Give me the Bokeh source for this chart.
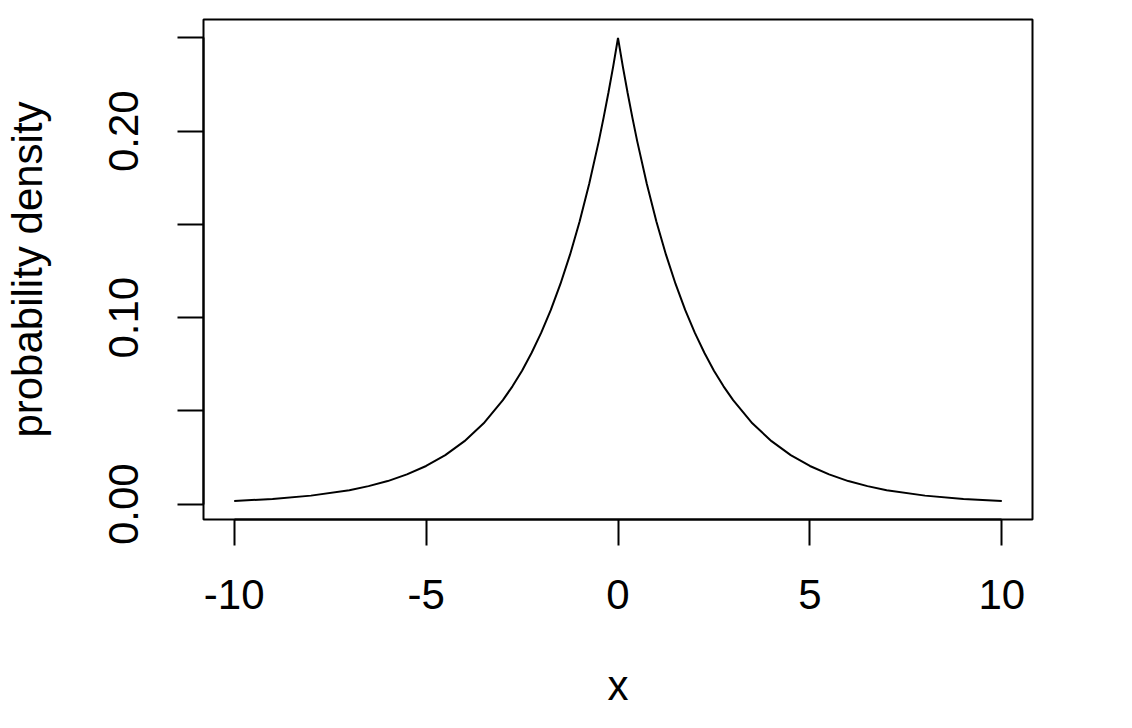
from bokeh.plotting import figure
from bokeh.models import Range1d, FixedTicker
from bokeh.embed import file_html
from bokeh.resources import INLINE

# Laplace-shaped density curve
x_vals = [-10, -9, -8, -7, -6.5, -6, -5.5, -5, -4.5, -4, -3.5, -3, -2.75, -2.5, -2.25,
          -2, -1.75, -1.5, -1.25, -1, -0.75, -0.5, -0.375, -0.25, -0.125, 0,
          0.125, 0.25, 0.375, 0.5, 0.75, 1, 1.25, 1.5, 1.75, 2, 2.25, 2.5, 2.75, 3,
          3.5, 4, 4.5, 5, 5.5, 6, 6.5, 7, 8, 9, 10]
density = [0.0017, 0.0028, 0.0046, 0.0075, 0.0097, 0.0124, 0.0160, 0.0205, 0.0263,
           0.0338, 0.0434, 0.0558, 0.0632, 0.0716, 0.0812,
           0.0920, 0.1042, 0.1181, 0.1338, 0.1516, 0.1718, 0.1947, 0.2073, 0.2206, 0.2348, 0.25,
           0.2348, 0.2206, 0.2073, 0.1947, 0.1718, 0.1516, 0.1338, 0.1181, 0.1042, 0.0920,
           0.0812, 0.0716, 0.0632, 0.0558,
           0.0434, 0.0338, 0.0263, 0.0205, 0.0160, 0.0124, 0.0097, 0.0075, 0.0046, 0.0028, 0.0017]

x_ticks = [-10, -5, 0, 5, 10]
x_tick_labels = ["-10", "-5", "0", "5", "10"]
y_ticks = [0.0, 0.05, 0.10, 0.15, 0.20, 0.25]
y_tick_labels = ["0.00", "", "0.10", "", "0.20", ""]
x_title = "x"
y_title = "probability density"

FONT = "Liberation Sans"
FS = "42px"

p = figure(width=1116, height=712, output_backend="svg", toolbar_location=None,
           x_range=Range1d(-10.8, 10.8), y_range=Range1d(-0.0082, 0.2599),
           min_border_left=203, min_border_top=19, min_border_right=84,
           min_border_bottom=193)
p.xgrid.visible = False
p.ygrid.visible = False
p.background_fill_color = "white"
p.border_fill_color = "white"
p.outline_line_color = "black"
p.outline_line_width = 2

p.line(x_vals, density, line_color="black", line_width=2)

for ax, ticks, labels, title in ((p.xaxis[0], x_ticks, x_tick_labels, x_title),
                                 (p.yaxis[0], y_ticks, y_tick_labels, y_title)):
    ax.ticker = FixedTicker(ticks=ticks)
    ax.major_label_overrides = {t: l for t, l in zip(ticks, labels)}
    ax.minor_tick_line_color = None
    ax.major_tick_in = 0
    ax.major_tick_out = 26
    ax.major_tick_line_color = "black"
    ax.major_tick_line_width = 2
    ax.axis_line_color = "black"
    ax.axis_line_width = 2
    ax.major_label_text_font = FONT
    ax.major_label_text_font_size = FS
    ax.major_label_text_color = "black"
    ax.axis_label = title
    ax.axis_label_text_font = FONT
    ax.axis_label_text_font_size = FS
    ax.axis_label_text_font_style = "normal"
    ax.axis_label_text_color = "black"

p.xaxis[0].bounds = (-10, 10)
p.yaxis[0].bounds = (0, 0.25)
p.yaxis[0].major_label_orientation = "vertical"
p.xaxis[0].major_label_standoff = 34
p.yaxis[0].major_label_standoff = 39
p.xaxis[0].axis_label_standoff = 50
p.yaxis[0].axis_label_standoff = 56

open("out.html", "w").write(file_html(p, INLINE))
